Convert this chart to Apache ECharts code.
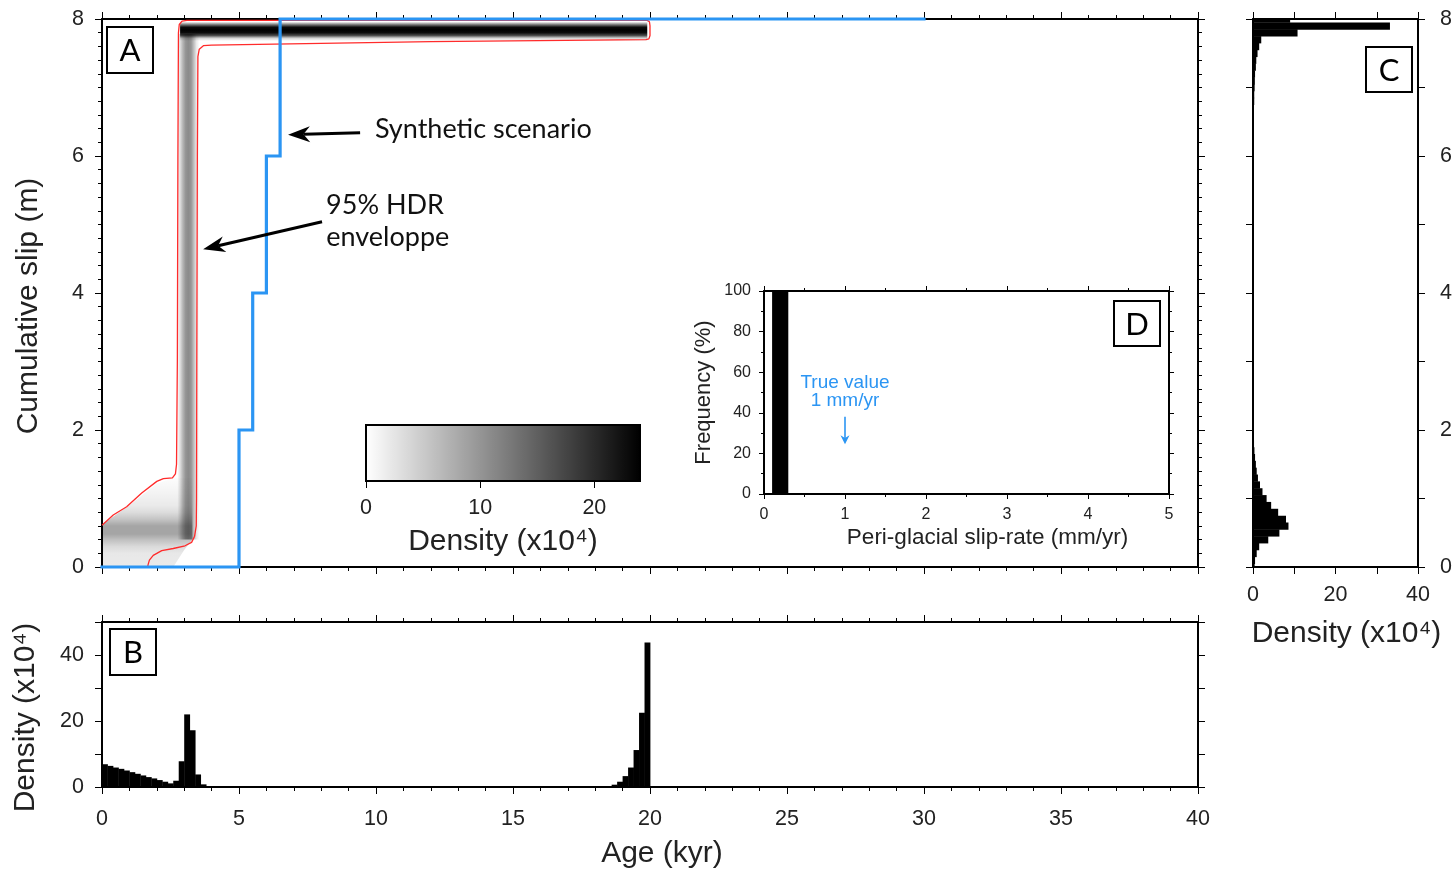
<!DOCTYPE html>
<html><head><meta charset="utf-8">
<script src="https://cdn.jsdelivr.net/npm/echarts@6/dist/echarts.min.js"></script>
<style>html,body{margin:0;padding:0;background:#fff}#c{width:1456px;height:874px}</style>
</head><body><div id="c"></div>
<script>
// ---------- Panel A : synthetic scenario (age kyr, cumulative slip m)
const scenarioAge  = [0, 5, 5.5, 6, 6.5, 30];
const scenarioSlip = [0, 2, 4, 6, 8, 8];

// 95% HDR envelope (outer branch then inner branch)
const hdrAge  = [0, 0.41, 0.9, 1.45, 2.0, 2.24, 2.57, 2.68, 2.72, 2.75, 2.77, 2.79, 2.82, 2.92, 3.1, 19.9, 19.98, 20.0, 20.0, 19.96, 19.85,
                 12.0, 4.0, 3.7, 3.55, 3.5, 3.48, 3.46, 3.45, 3.44, 3.38, 3.27, 3.03, 2.6, 2.18, 1.87, 1.73, 1.68, 1.67];
const hdrSlip = [0.61, 0.76, 0.88, 1.08, 1.25, 1.29, 1.30, 1.36, 1.5, 3.0, 6.0, 7.8, 7.92, 7.97, 7.98, 7.98, 7.96, 7.9, 7.76, 7.71, 7.70,
                 7.67, 7.62, 7.61, 7.56, 7.45, 6.0, 3.0, 1.0, 0.6, 0.45, 0.36, 0.31, 0.27, 0.24, 0.17, 0.1, 0.03, 0];

// density field (x10^4)
const topBandAgeRange = [2.85, 19.9];
const topBandSlip     = [7.68, 7.72, 7.76, 7.80, 7.84, 7.88, 7.92, 7.96];
const topBandDensity  = [0, 4, 17, 23, 24, 23, 12, 0];
const colBandSlipRange = [0.4, 7.78];
const colBandAge       = [2.75, 2.85, 2.95, 3.05, 3.15, 3.25, 3.35, 3.45, 3.55];
const colBandDensity   = [0, 3, 7, 10, 11, 10, 6, 2, 0];
const lowZoneAge  = [0, 2.6, 3.0, 3.3, 3.3, 2.6, 2.0, 1.0, 0];
const lowZoneSlip = [0, 0, 0.25, 0.4, 1.3, 1.3, 1.22, 0.9, 0.62];
const lowProfileSlip    = [0, 0.2, 0.3, 0.4, 0.48, 0.6, 0.7, 0.8, 0.9, 1.1, 1.3];
const lowProfileDensity = [2, 2.2, 3.5, 6, 8.5, 8.5, 5.5, 3.2, 2, 1, 0.3];

// colour bar
const cbRange = [0, 24];
const cbTicks = [0, 10, 20];

// ---------- Panel B : age density (x10^4)
const bBinWidth = 0.2;
const bBinStart = [0.0, 0.2, 0.4, 0.6, 0.8, 1.0, 1.2, 1.4, 1.6, 1.8, 2.0, 2.2, 2.4, 2.6, 2.8, 3.0, 3.2, 3.4, 3.6, 3.8, 4.0,
                   18.2, 18.4, 18.6, 18.8, 19.0, 19.2, 19.4, 19.6, 19.8];
const bDensity  = [6.9, 6.4, 5.9, 5.5, 5.0, 4.5, 4.0, 3.5, 3.0, 2.6, 2.1, 1.6, 1.1, 1.9, 7.8, 22.0, 17.2, 3.8, 0.8, 0.3, 0.2,
                   0.2, 0.3, 0.7, 1.6, 3.3, 5.9, 11.2, 22.5, 43.8];

// ---------- Panel C : slip density (x10^4)
const cBinWidth = 0.1;
const cSlipBin = [0.0, 0.1, 0.2, 0.3, 0.4, 0.5, 0.6, 0.7, 0.8, 0.9, 1.0, 1.1, 1.2, 1.3, 1.4, 1.5, 1.6, 1.7, 1.8, 1.9, 2.0,
                  6.5, 6.6, 6.7, 6.8, 6.9, 7.0, 7.1, 7.2, 7.3, 7.4, 7.5, 7.6, 7.7, 7.8, 7.9, 8.0];
const cDensity = [0.4, 0.5, 0.9, 1.5, 3.7, 6.4, 8.6, 8.0, 6.1, 4.4, 3.3, 2.3, 1.7, 1.2, 0.9, 0.7, 0.5, 0.35, 0.25, 0.15, 0.1,
                  0.15, 0.2, 0.2, 0.3, 0.3, 0.4, 0.45, 0.5, 0.7, 0.8, 1.1, 1.5, 2.0, 10.8, 33.2, 9.0];

// ---------- Panel D : peri-glacial slip-rate histogram
const dBinStart = [0.1];
const dBinEnd   = [0.3];
const dFreq     = [100];
const trueRate  = 1;

// ---------- styling
const FONT = "'Liberation Sans', Arial, sans-serif";
const FONT2 = "Lato, 'Open Sans', sans-serif";
const TXT = '#222';
const BLUE = '#2b95f3';
const DMAX = cbRange[1];

function mkAxis(o) {
  const ax = {
    type: 'value', gridIndex: o.grid, position: o.pos, min: o.min, max: o.max, interval: o.interval,
    axisLine: {show: true, onZero: false, lineStyle: {color: '#000', width: o.lw || 2}},
    axisTick: {show: true, inside: false, length: o.tickLen || 7, lineStyle: {color: '#000', width: 1}},
    minorTick: {show: !!o.minor, splitNumber: o.minor || 5, length: o.minorLen || 4, lineStyle: {color: '#000', width: 1}},
    splitLine: {show: false}, minorSplitLine: {show: false},
    axisLabel: {show: !!o.labels, margin: o.margin || 8, fontFamily: FONT, fontSize: o.fontSize || 21.5, color: TXT,
                showMinLabel: true, showMaxLabel: true, hideOverlap: false}
  };
  if (o.labelValues) ax.axisLabel.customValues = o.labelValues;
  if (o.tickValues) ax.axisTick.customValues = o.tickValues;
  if (o.name) {
    ax.name = o.name; ax.nameLocation = 'middle'; ax.nameGap = o.nameGap;
    ax.nameTextStyle = Object.assign({fontFamily: FONT, fontSize: o.nameSize || 30, color: TXT}, o.nameStyle || {});
  }
  return ax;
}

function stops(pos, dens) {
  const p0 = pos[0], p1 = pos[pos.length - 1];
  return pos.map((p, i) => ({offset: (p - p0) / (p1 - p0), color: 'rgba(0,0,0,' + Math.min(1, dens[i] / DMAX).toFixed(3) + ')'}));
}

const grids = [
  {left: 102, top: 19, width: 1096, height: 548},   // A
  {left: 102, top: 622, width: 1096, height: 165},  // B
  {left: 1253, top: 19, width: 165, height: 548},   // C
  {left: 764, top: 291, width: 405, height: 203},   // D
  {left: 366, top: 425, width: 274, height: 56}     // colour bar
];

const xAxes = [
  mkAxis({grid: 0, pos: 'bottom', min: 0, max: 40, interval: 5, minor: 5}),
  mkAxis({grid: 0, pos: 'top', min: 0, max: 40, interval: 5, minor: 5}),
  mkAxis({grid: 1, pos: 'bottom', min: 0, max: 40, interval: 5, minor: 5, labels: true, margin: 21,
          name: 'Age (kyr)', nameGap: 52, nameStyle: {padding: [0, 0, 0, 24]}}),
  mkAxis({grid: 1, pos: 'top', min: 0, max: 40, interval: 5, minor: 5}),
  mkAxis({grid: 2, pos: 'bottom', min: 0, max: 40, interval: 10, labels: true, margin: 17, labelValues: [0, 20, 40],
          name: 'Density (x10⁴)', nameGap: 52, nameStyle: {padding: [0, 0, 0, 22]}}),
  mkAxis({grid: 2, pos: 'top', min: 0, max: 40, interval: 10}),
  mkAxis({grid: 3, pos: 'bottom', min: 0, max: 5, interval: 1, minor: 2, tickLen: 5, minorLen: 3, labels: true, margin: 13, fontSize: 16,
          name: 'Peri-glacial slip-rate (mm/yr)', nameGap: 32, nameSize: 22.5, nameStyle: {padding: [0, 0, 0, 42]}}),
  mkAxis({grid: 3, pos: 'top', min: 0, max: 5, interval: 1, minor: 2, tickLen: 5, minorLen: 3}),
  mkAxis({grid: 4, pos: 'bottom', min: cbRange[0], max: cbRange[1], interval: 10, tickLen: 7, labels: true, margin: 16,
          labelValues: cbTicks, tickValues: cbTicks, lw: 0.01, name: 'Density (x10⁴)', nameGap: 46})
];
xAxes[8].axisLine.show = false;

const yAxes = [
  mkAxis({grid: 0, pos: 'left', min: 0, max: 8, interval: 2, minor: 10, labels: true, margin: 18,
          name: 'Cumulative slip (m)', nameGap: 58, nameStyle: {padding: [0, 26, 0, 0]}}),
  mkAxis({grid: 0, pos: 'right', min: 0, max: 8, interval: 2, minor: 10}),
  mkAxis({grid: 1, pos: 'left', min: 0, max: 50, interval: 10, labels: true, margin: 18, labelValues: [0, 20, 40],
          name: 'Density (x10⁴)', nameGap: 61, nameStyle: {padding: [0, 26, 0, 0]}}),
  mkAxis({grid: 1, pos: 'right', min: 0, max: 50, interval: 10}),
  mkAxis({grid: 2, pos: 'left', min: 0, max: 8, interval: 1}),
  mkAxis({grid: 2, pos: 'right', min: 0, max: 8, interval: 1, labels: true, margin: 22, labelValues: [0, 2, 4, 6, 8]}),
  mkAxis({grid: 3, pos: 'left', min: 0, max: 100, interval: 20, minor: 2, tickLen: 5, minorLen: 3, labels: true, margin: 13, fontSize: 16,
          name: 'Frequency (%)', nameGap: 49, nameSize: 22}),
  mkAxis({grid: 3, pos: 'right', min: 0, max: 100, interval: 20, minor: 2, tickLen: 5, minorLen: 3}),
  mkAxis({grid: 4, pos: 'left', min: 0, max: 1, interval: 1})
];
yAxes[8].show = false;

// density field renderer
const densityBands = ['low', 'column', 'top'];
function renderDensity(params, api) {
  const kind = densityBands[api.value(0)];
  if (kind === 'top') {
    const a = api.coord([topBandAgeRange[0], topBandSlip[topBandSlip.length - 1]]);
    const b = api.coord([topBandAgeRange[1], topBandSlip[0]]);
    const g = new echarts.graphic.LinearGradient(0, b[1], 0, a[1], stops(topBandSlip, topBandDensity), true);
    return {type: 'rect', shape: {x: a[0], y: a[1], width: b[0] - a[0], height: b[1] - a[1]}, style: {fill: g}};
  }
  if (kind === 'column') {
    const a = api.coord([colBandAge[0], colBandSlipRange[1]]);
    const b = api.coord([colBandAge[colBandAge.length - 1], colBandSlipRange[0]]);
    const g = new echarts.graphic.LinearGradient(a[0], 0, b[0], 0, stops(colBandAge, colBandDensity), true);
    return {type: 'rect', shape: {x: a[0], y: a[1], width: b[0] - a[0], height: b[1] - a[1]}, style: {fill: g}};
  }
  const pts = lowZoneAge.map((x, i) => api.coord([x, lowZoneSlip[i]]));
  const y0 = api.coord([0, lowProfileSlip[0]])[1];
  const y1 = api.coord([0, lowProfileSlip[lowProfileSlip.length - 1]])[1];
  const g = new echarts.graphic.LinearGradient(0, y0, 0, y1, stops(lowProfileSlip, lowProfileDensity), true);
  return {type: 'polygon', shape: {points: pts}, style: {fill: g}};
}

const chart = echarts.init(document.getElementById('c'), null, {renderer: 'canvas'});
chart.setOption({
  animation: false,
  backgroundColor: '#fff',
  grid: grids,
  xAxis: xAxes,
  yAxis: yAxes,
  series: [
    {type: 'custom', name: 'density', xAxisIndex: 0, yAxisIndex: 0, z: 1, clip: true,
     data: densityBands.map((d, i) => [i]), renderItem: renderDensity},
    {type: 'line', name: 'HDR', xAxisIndex: 0, yAxisIndex: 0, z: 3, showSymbol: false, symbol: 'none', clip: false,
     data: hdrAge.map((x, i) => [x, hdrSlip[i]]), lineStyle: {color: '#ff2b2b', width: 1.3}},
    {type: 'line', name: 'scenario', xAxisIndex: 0, yAxisIndex: 0, z: 5, step: 'end', showSymbol: false, symbol: 'none', clip: false,
     data: scenarioAge.map((x, i) => [x, scenarioSlip[i]]), lineStyle: {color: BLUE, width: 3.2, cap: 'square', join: 'miter'}},
    {type: 'custom', name: 'ageDensity', xAxisIndex: 2, yAxisIndex: 2, z: 3,
     data: bBinStart.map((s, i) => [s, s + bBinWidth, bDensity[i]]),
     renderItem: (p, api) => {
       const a = api.coord([api.value(0), 0]), b = api.coord([api.value(1), api.value(2)]);
       return {type: 'rect', shape: {x: a[0], y: b[1], width: b[0] - a[0] + 0.4, height: a[1] - b[1]}, style: {fill: '#000'}};
     }},
    {type: 'custom', name: 'slipDensity', xAxisIndex: 4, yAxisIndex: 4, z: 3, clip: true,
     data: cSlipBin.map((s, i) => [s - cBinWidth / 2, s + cBinWidth / 2, cDensity[i]]),
     renderItem: (p, api) => {
       const a = api.coord([0, api.value(0)]), b = api.coord([api.value(2), api.value(1)]);
       return {type: 'rect', shape: {x: a[0], y: b[1], width: b[0] - a[0], height: a[1] - b[1] + 0.4}, style: {fill: '#000'}};
     }},
    {type: 'custom', name: 'rate', xAxisIndex: 6, yAxisIndex: 6, z: 3,
     data: dBinStart.map((s, i) => [s, dBinEnd[i], dFreq[i]]),
     renderItem: (p, api) => {
       const a = api.coord([api.value(0), 0]), b = api.coord([api.value(1), api.value(2)]);
       return {type: 'rect', shape: {x: a[0], y: b[1], width: b[0] - a[0], height: a[1] - b[1]}, style: {fill: '#000'}};
     }},
    {type: 'custom', name: 'colorbar', xAxisIndex: 8, yAxisIndex: 8, z: 3,
     data: [[cbRange[0], cbRange[1]]],
     renderItem: (p, api) => {
       const a = api.coord([api.value(0), 1]), b = api.coord([api.value(1), 0]);
       const g = new echarts.graphic.LinearGradient(a[0], 0, b[0], 0, stops(cbRange, cbRange), true);
       return {type: 'rect', shape: {x: a[0], y: a[1], width: b[0] - a[0], height: b[1] - a[1]},
               style: {fill: g, stroke: '#000', lineWidth: 2}};
     }}
  ]
});

// ---------- annotations
const pA = pt => chart.convertToPixel({xAxisIndex: 0, yAxisIndex: 0}, pt);
const pD = pt => chart.convertToPixel({xAxisIndex: 6, yAxisIndex: 6}, pt);

function arrow(tail, tip, color, lw, headLen, headW) {
  const dx = tip[0] - tail[0], dy = tip[1] - tail[1];
  const L = Math.hypot(dx, dy), ux = dx / L, uy = dy / L, px = -uy, py = ux;
  const bx = tip[0] - ux * headLen, by = tip[1] - uy * headLen;
  const nx = tip[0] - ux * headLen * 0.7, ny = tip[1] - uy * headLen * 0.7;
  return [
    {type: 'line', z: 50, shape: {x1: tail[0], y1: tail[1], x2: nx, y2: ny}, style: {stroke: color, lineWidth: lw}},
    {type: 'polygon', z: 50, shape: {points: [tip, [bx + px * headW / 2, by + py * headW / 2], [nx, ny], [bx - px * headW / 2, by - py * headW / 2]]},
     style: {fill: color}}
  ];
}
function txt(pos, s, size, color, font, align) {
  return {type: 'text', z: 50, x: pos[0], y: pos[1],
          style: {text: s, fontSize: size, fill: color, fontFamily: font, align: align || 'center', verticalAlign: 'middle'}};
}
function letterBox(x, y, w, h, s) {
  return [
    {type: 'rect', z: 60, shape: {x: x, y: y, width: w, height: h}, style: {fill: '#fff', stroke: '#000', lineWidth: 2}},
    {type: 'text', z: 61, x: x + w / 2, y: y + h / 2 + 1,
     style: {text: s, fontSize: 31, fill: '#000', fontFamily: FONT2, align: 'center', verticalAlign: 'middle'}}
  ];
}

const g = [];
g.push(...arrow(pA([9.42, 6.34]), pA([6.79, 6.31]), '#000', 3, 22, 16));
g.push(txt(pA([9.96, 6.39]), 'Synthetic scenario', 27, '#111', FONT2, 'left'));
g.push(...arrow(pA([8.03, 5.04]), pA([3.69, 4.64]), '#000', 3, 22, 16));
g.push(txt(pA([10.33, 5.28]), '95% HDR', 27, '#111', FONT2));
g.push(txt(pA([10.43, 4.82]), 'enveloppe', 27, '#111', FONT2));
g.push(txt(pD([trueRate, 54.7]), 'True value', 19, BLUE, FONT));
g.push(txt(pD([trueRate, 46]), '1 mm/yr', 19, BLUE, FONT));
g.push(...arrow(pD([trueRate, 38]), pD([trueRate, 24.5]), BLUE, 1.6, 9, 9));
g.push(...letterBox(107, 27, 46, 46, 'A'));
g.push(...letterBox(110, 629, 46, 46, 'B'));
g.push(...letterBox(1366, 47, 46, 45, 'C'));
g.push(...letterBox(1114, 301, 46, 45, 'D'));
chart.setOption({graphic: {elements: g}});
</script>
</body></html>
